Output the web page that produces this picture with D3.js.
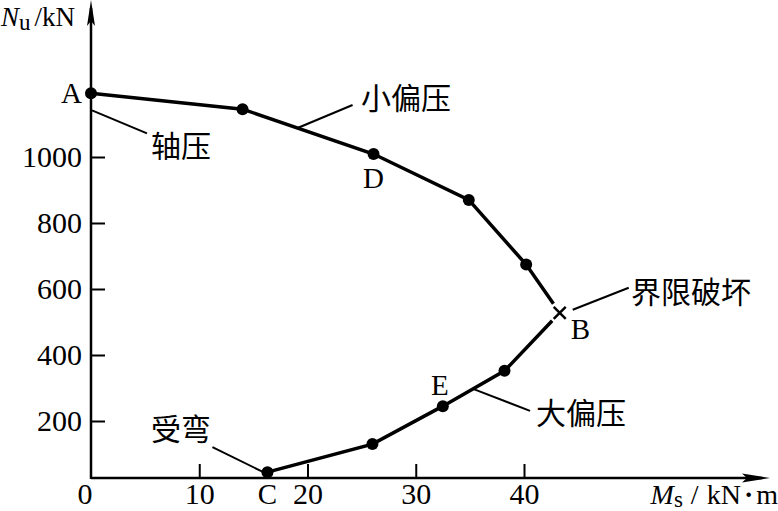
<!DOCTYPE html>
<html><head><meta charset="utf-8">
<script src="https://cdn.jsdelivr.net/npm/d3@7"></script>
<style>body{margin:0;background:#fff} svg{display:block}</style>
</head><body>
<svg id="c" width="778" height="511"></svg>
<script>
// ---- data ----
const xTicks = [10, 20, 30, 40];
const yTicks = [200, 400, 600, 800, 1000];
// small-eccentricity branch: A ... towards B
const upperM = [0, 14.0, 26.1, 34.9, 40.2];
const upperN = [1193, 1145, 1009, 870, 674];
// balanced failure point B
const balancedM = [43.3];
const balancedN = [528];
// large-eccentricity branch: C ... towards B
const lowerM = [16.3, 26.0, 32.5, 38.2];
const lowerN = [45, 130, 245, 352];
// point letters
const pointLabels = ["A", "D", "E", "C", "B"];

// ---- layout ----
const svg = d3.select("#c");
const serif = "'Liberation Serif','Times New Roman',serif";
const cjk = "'Noto Sans CJK SC','Noto Sans CJK JP',sans-serif";
const x = d3.scaleLinear().domain([0, 40]).range([91, 524]);
const y = d3.scaleLinear().domain([0, 1000]).range([487, 157]);
const axisY = 478, axisX = x(0);
const tickFont = 30;

// axes lines + arrows
svg.append("line").attr("x1", axisX).attr("y1", axisY).attr("x2", 762).attr("y2", axisY)
  .attr("stroke", "#000").attr("stroke-width", 2.5);
svg.append("line").attr("x1", axisX).attr("y1", axisY + 1).attr("x2", axisX).attr("y2", 8)
  .attr("stroke", "#000").attr("stroke-width", 2.5);
svg.append("path").attr("d", `M770,${axisY} L742,${axisY - 4.5} L747,${axisY} L742,${axisY + 4.5} Z`).attr("fill", "#000");
svg.append("path").attr("d", `M${axisX},0 L${axisX - 4},26 L${axisX},21 L${axisX + 4},26 Z`).attr("fill", "#000");

// y axis ticks
const gy = svg.append("g").attr("transform", `translate(${axisX},0)`)
  .call(d3.axisLeft(y).tickValues(yTicks).tickSize(-14).tickPadding(9).tickFormat(d3.format("d")));
gy.select(".domain").remove();
gy.selectAll(".tick line").attr("stroke-width", 2);
gy.selectAll(".tick text").attr("font-family", serif).attr("font-size", tickFont).attr("fill", "#000").attr("dy", "0.33em");

// x axis ticks
const gx = svg.append("g").attr("transform", `translate(0,${axisY})`)
  .call(d3.axisBottom(x).tickValues(xTicks).tickSize(-14).tickPadding(0).tickFormat(d3.format("d")));
gx.select(".domain").remove();
gx.selectAll(".tick line").attr("stroke-width", 2);
gx.selectAll(".tick text").attr("font-family", serif).attr("font-size", tickFont).attr("fill", "#000")
  .attr("y", 26).attr("dy", 0);
svg.append("text").attr("x", axisX - 6).attr("y", axisY + 26).attr("text-anchor", "middle")
  .attr("font-family", serif).attr("font-size", tickFont).text("0");

// axis titles
const ty = svg.append("text").attr("x", 1).attr("y", 26).attr("font-family", serif).attr("font-size", 27);
ty.append("tspan").attr("font-style", "italic").text("N");
ty.append("tspan").attr("font-size", 23).attr("dy", 4).text("u");
ty.append("tspan").attr("dy", -4).attr("dx", 4).text("/kN");
const tx = svg.append("text").attr("x", 778).attr("y", 504).attr("text-anchor", "end").attr("font-family", serif).attr("font-size", 28);
tx.append("tspan").attr("font-style", "italic").text("M");
tx.append("tspan").attr("font-size", 23).attr("dy", 3).text("s");
tx.append("tspan").attr("dy", -3).attr("dx", 8).text("/");
tx.append("tspan").attr("dx", 8).text("kN");
tx.append("tspan").attr("font-weight", "bold").attr("dx", 3).text("·");
tx.append("tspan").attr("dx", 3).text("m");

// ---- curve ----
const upper = upperM.map((m, i) => [x(m), y(upperN[i])]);
const lower = lowerM.map((m, i) => [x(m), y(lowerN[i])]);
const B = [x(balancedM[0]), y(balancedN[0])];
function shorten(from, to, gap) {
  const dx = to[0] - from[0], dy = to[1] - from[1], L = Math.hypot(dx, dy);
  return [to[0] - dx / L * gap, to[1] - dy / L * gap];
}
const line = d3.line();
svg.append("path").attr("d", line([...upper, shorten(upper[upper.length - 1], B, 11)]))
  .attr("fill", "none").attr("stroke", "#000").attr("stroke-width", 3.5);
svg.append("path").attr("d", line([...lower, shorten(lower[lower.length - 1], B, 11)]))
  .attr("fill", "none").attr("stroke", "#000").attr("stroke-width", 3.5);

// dots
svg.selectAll("circle.pt").data([...upper, ...lower]).join("circle")
  .attr("class", "pt").attr("cx", d => d[0]).attr("cy", d => d[1]).attr("r", 6).attr("fill", "#000");
// cross at B
const cs = 6;
svg.append("path").attr("d", `M${B[0] - cs},${B[1] - cs}L${B[0] + cs},${B[1] + cs}M${B[0] - cs},${B[1] + cs}L${B[0] + cs},${B[1] - cs}`)
  .attr("stroke", "#000").attr("stroke-width", 2.5);

// point letters
const letter = (t, px, py, anchor) => svg.append("text").attr("x", px).attr("y", py)
  .attr("text-anchor", anchor).attr("font-family", serif).attr("font-size", 29).text(t);
letter(pointLabels[0], upper[0][0] - 9, upper[0][1] + 10, "end");
letter(pointLabels[1], upper[2][0], upper[2][1] + 34, "middle");
letter(pointLabels[2], lower[2][0] - 3, lower[2][1] - 11, "middle");
letter(pointLabels[3], lower[0][0], axisY + 26, "middle");
letter(pointLabels[4], B[0] + 11, B[1] + 26, "start");

// annotations with leader lines
function lerp(a, b, t) { return [a[0] + (b[0] - a[0]) * t, a[1] + (b[1] - a[1]) * t]; }
function leader(p1, p2) {
  svg.append("line").attr("x1", p1[0]).attr("y1", p1[1]).attr("x2", p2[0]).attr("y2", p2[1])
    .attr("stroke", "#000").attr("stroke-width", 2);
}
function cjkText(t, px, py) {
  svg.append("text").attr("x", px).attr("y", py).attr("font-family", cjk).attr("font-size", 30).text(t);
}
// 轴压
leader([upper[0][0] + 1, upper[0][1] + 17], [upper[0][0] + 56, upper[0][1] + 40]);
cjkText("轴压", 151, 157);
// 小偏压
const s1 = lerp(upper[1], upper[2], 0.42);
leader(s1, [s1[0] + 55, s1[1] - 23]);
cjkText("小偏压", 361, 109);
// 界限破坏
leader([B[0] + 13, B[1] - 3], [B[0] + 69, B[1] - 25]);
cjkText("界限破坏", 631, 303);
// 大偏压
const s2 = lerp(lower[2], lower[3], 0.49);
leader(s2, [s2[0] + 57, s2[1] + 22]);
cjkText("大偏压", 536, 424);
// 受弯
leader([lower[0][0] - 4, lower[0][1]], [lower[0][0] - 55, lower[0][1] - 25]);
cjkText("受弯", 151, 440);
</script>
</body></html>
